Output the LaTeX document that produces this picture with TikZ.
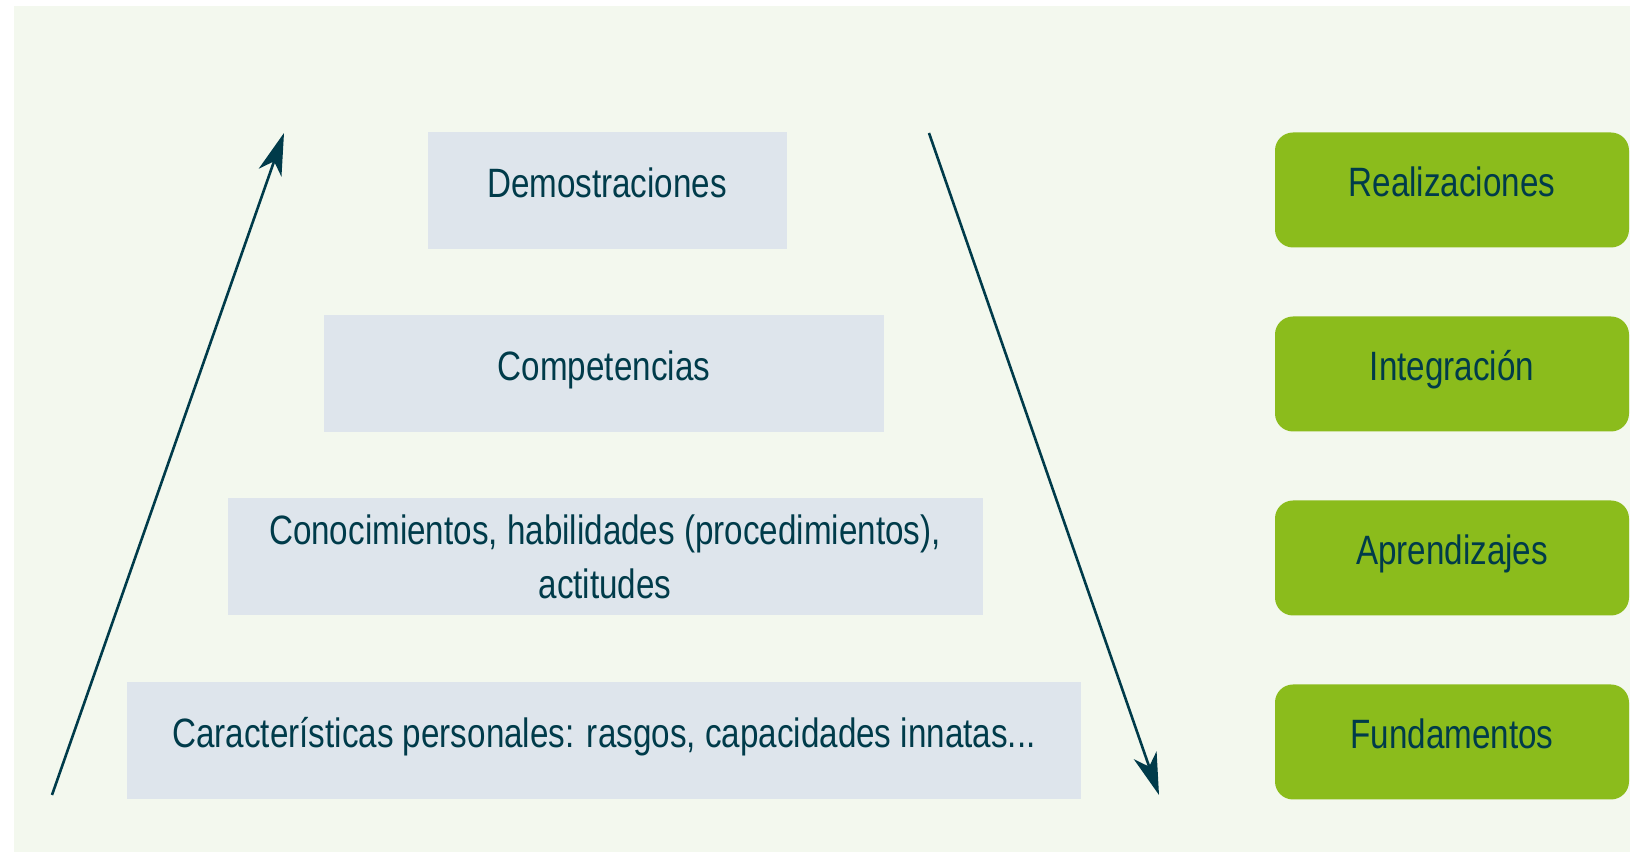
\documentclass[tikz,border=0pt]{standalone}
\usepackage{fontspec}
\setmainfont{Liberation Sans}[FakeStretch=0.81]
\usetikzlibrary{arrows.meta}
\definecolor{bgcol}{HTML}{F3F8EE}
\definecolor{levelcol}{HTML}{DEE5EC}
\definecolor{stagecol}{HTML}{8BBC1C}
\definecolor{inkcol}{HTML}{003B4A}

\begin{document}
\begin{tikzpicture}[x=0.5pt,y=0.5pt,
    level/.style={fill=levelcol,inner sep=0pt,minimum height=58.5pt,
        text=inkcol,font=\fontsize{20.5}{27}\selectfont},
    oneline/.style={text height=0.95em,text depth=0.25em},
    stage/.style={fill=stagecol,rounded corners=9pt,inner sep=0pt,
        minimum width=177pt,minimum height=57.5pt,text=inkcol,
        font=\fontsize{20.5}{27}\selectfont,oneline},
    flow/.style={draw=inkcol,line width=1.3pt,
        -{Stealth[length=21pt,width=12pt,inset=6pt]}}]
        \useasboundingbox (0,0) rectangle (1630,852);
        % background
        \fill[white] (0,0) rectangle (1630,852);
        \fill[bgcol] (14,0) rectangle (1630,846);
        % levels of the pyramid
        \node[level,oneline,minimum width=179.5pt] at (607,661) (demo) {Demostraciones};
        \node[level,oneline,minimum width=280pt] at (604,478) (comp) {Competencias};
        \node[level,minimum width=377.5pt,align=center] at (605,295) (know)
            {Conocimientos, habilidades (procedimientos),\\actitudes};
        \node[level,oneline,minimum width=477pt] at (604,111) (traits)
            {Características personales: rasgos, capacidades innatas...};
        % stages on the right
        \node[stage] at (1452,662) (real) {Realizaciones};
        \node[stage] at (1452,478) (integ) {Integración};
        \node[stage] at (1452,294) (learn) {Aprendizajes};
        \node[stage] at (1452,110) (basis) {Fundamentos};
        % declare points for arrow start/end
        \coordinate (up_start) at (52,57);
        \coordinate (up_end) at (284,719);
        \coordinate (down_start) at (929,719);
        \coordinate (down_end) at (1159,57);
        % draw arrows
        \draw[flow] (up_start) -- (up_end);
        \draw[flow] (down_start) -- (down_end);
    \end{tikzpicture}
\end{document}
